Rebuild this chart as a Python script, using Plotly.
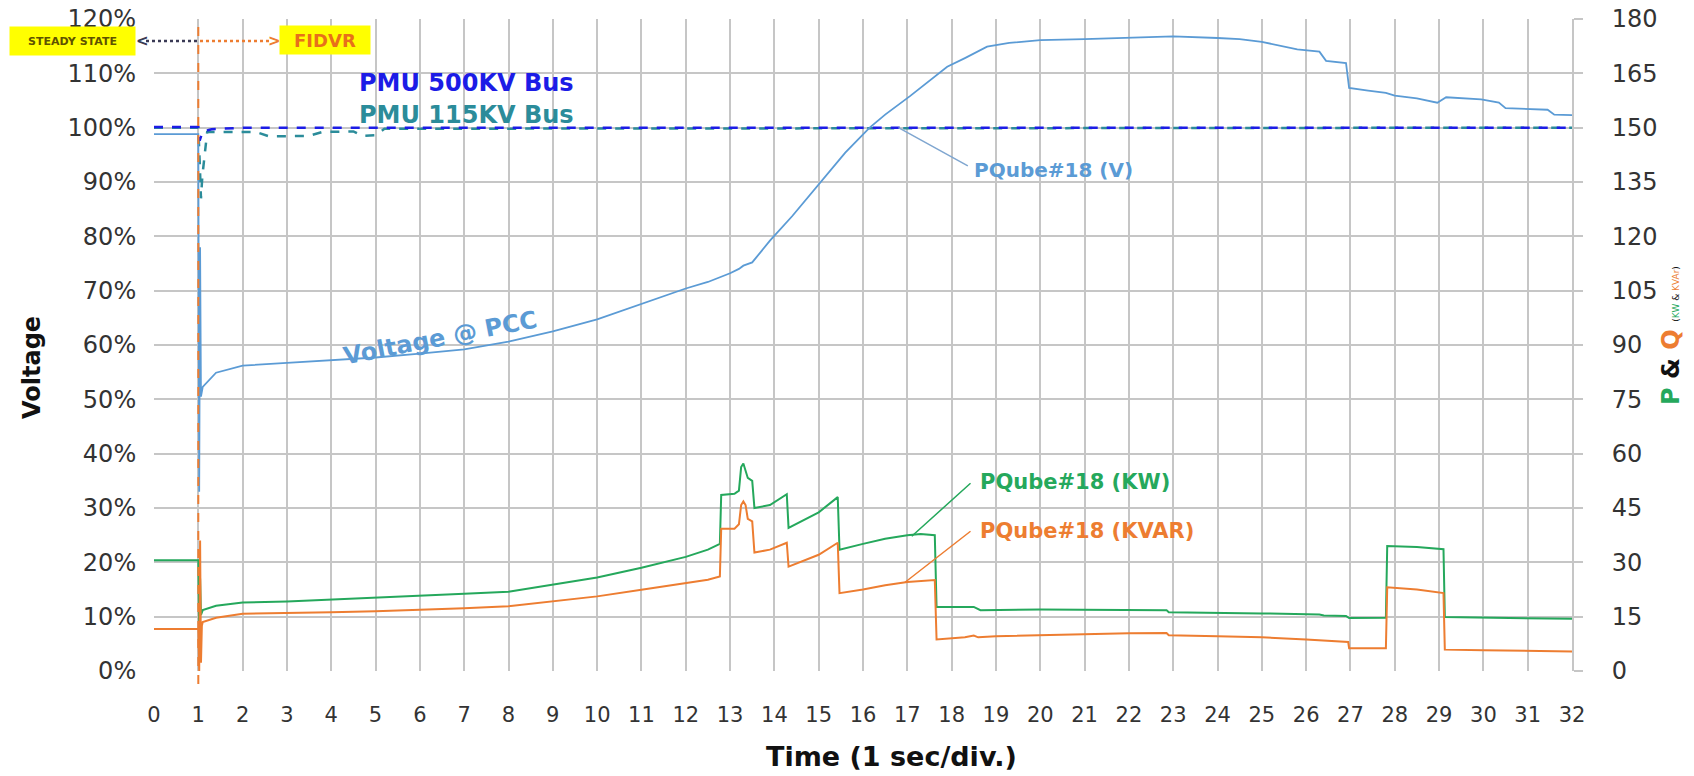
import plotly.graph_objects as go

# ---- PQube#18 voltage at the PCC (% of nominal) ----
t_pcc = [0, 1.0, 1.02, 1.04, 1.06, 1.1, 1.4, 2, 3, 4, 5, 6, 7, 8, 9, 10, 11, 12, 12.5, 13,
         13.2, 13.3, 13.5, 13.9, 14.4, 15, 15.6, 16.15, 16.5, 17.06, 17.5, 17.9, 18.3, 18.8,
         19.3, 20, 21, 22, 23, 24, 24.5, 25, 25.5, 25.8, 26.3, 26.45, 26.9, 26.97, 27.4,
         27.8, 28.0, 28.5, 28.96, 29.16, 29.95, 30.35, 30.5, 31.45, 31.6, 32]
v_pcc = [98.8, 98.8, 33, 78, 50.5, 52.3, 54.9, 56.2, 56.7, 57.2, 57.7, 58.4, 59.2, 60.6, 62.5,
         64.7, 67.6, 70.4, 71.6, 73.2, 74.0, 74.6, 75.2, 79.2, 83.7, 89.5, 95.4, 100, 102.4,
         105.8, 108.6, 111.2, 112.8, 114.9, 115.6, 116.1, 116.3, 116.6, 116.8, 116.5, 116.3,
         115.8, 115.0, 114.4, 114.0, 112.3, 111.9, 107.3, 106.8, 106.4, 105.9, 105.4, 104.6,
         105.6, 105.2, 104.6, 103.6, 103.3, 102.4, 102.3]

# ---- PMU bus voltages (% of nominal) ----
t_pmu500 = [0, 1.0, 1.03, 1.1, 1.3, 2, 32]
v_pmu500 = [100.1, 100.1, 97.6, 99.3, 99.7, 100, 100]

t_pmu115 = [0, 1.0, 1.03, 1.06, 1.09, 1.2, 2.3, 2.6, 3.5, 3.8, 4.5, 4.7, 5.0, 5.2, 32]
v_pmu115 = [100, 100, 94, 87, 91, 99.2, 99.2, 98.4, 98.5, 99.2, 99.3, 98.5, 98.6, 99.8, 100]

# ---- PQube#18 active power (kW) ----
t_kw = [0, 1.0, 1.02, 1.04, 1.06, 1.1, 1.4, 2, 3, 4, 5, 6, 7, 8, 9, 10, 11, 12, 12.5, 12.77,
        12.8, 13.1, 13.2, 13.25, 13.3, 13.35, 13.4, 13.5, 13.55, 13.9, 14.28, 14.32, 15.0,
        15.43, 15.47, 16, 16.5, 17, 17.3, 17.62, 17.66, 18.5, 18.65, 20, 21, 22.85, 22.9,
        24, 25, 26.3, 26.4, 26.9, 26.97, 27.8, 27.83, 28.5, 29.1, 29.13, 30, 31, 32]
p_kw = [30.6, 30.6, 10.5, 25.5, 15.5, 16.8, 18.0, 18.9, 19.2, 19.7, 20.1, 20.7, 21.3, 21.9,
        23.9, 25.8, 28.5, 31.5, 33.5, 35.1, 48.6, 48.9, 49.8, 56.3, 57.3, 55.5, 53.3, 52.5,
        45.0, 45.8, 48.8, 39.5, 43.8, 48.0, 33.5, 35.1, 36.5, 37.5, 37.8, 37.5, 17.7, 17.7,
        16.8, 17.0, 17.0, 16.8, 16.2, 16.1, 15.9, 15.6, 15.3, 15.2, 14.6, 14.7, 34.5, 34.2,
        33.6, 14.9, 14.7, 14.6, 14.4]

# ---- PQube#18 reactive power (kVAr) ----
t_kvar = [0, 1.0, 1.02, 1.04, 1.06, 1.08, 1.1, 1.4, 2, 3, 4, 5, 6, 7, 8, 9, 10, 11, 12, 12.5,
          12.77, 12.8, 13.1, 13.2, 13.25, 13.3, 13.35, 13.4, 13.5, 13.55, 13.9, 14.28, 14.32,
          15.0, 15.43, 15.47, 16, 16.5, 17, 17.62, 17.66, 18.3, 18.5, 18.6, 19, 20, 21, 22,
          22.85, 22.9, 24, 25, 26, 26.5, 26.95, 26.97, 27.8, 27.83, 28.5, 29.1, 29.13, 30,
          31, 32]
q_kvar = [11.6, 11.6, 0, 36, 2.3, 12.5, 13.5, 14.7, 15.8, 15.9, 16.2, 16.5, 16.8, 17.3, 17.9,
          19.2, 20.6, 22.4, 24.2, 25.2, 26.1, 39.3, 39.3, 40.5, 45.8, 46.8, 45.8, 42.0, 41.3,
          32.7, 33.5, 35.4, 28.8, 32.1, 35.4, 21.5, 22.5, 23.7, 24.6, 25.1, 8.7, 9.3, 9.8,
          9.3, 9.6, 9.9, 10.1, 10.4, 10.5, 9.9, 9.6, 9.3, 8.7, 8.3, 8.0, 6.3, 6.3, 23.1,
          22.5, 21.5, 5.9, 5.7, 5.6, 5.4]

x_ticks = list(range(0, 33))
v_ticks = list(range(0, 121, 10))
v_ticktext = [f"{v}%" for v in v_ticks]
pq_ticks = list(range(0, 181, 15))
fidvr_start = 1.0

# colours
C_PCC = "#5b9bd5"
C_500 = "#1c1ce6"
C_115 = "#2b8c9a"
C_KW = "#25a85c"
C_KVAR = "#ed7d31"
GRID = "#c6c6c6"
FONT = "DejaVu Sans"

W, H = 1694, 776
L, R, T, B = 154, 122, 19, 105
PW, PH = W - L - R, H - T - B


def px(x):
    return (x - L) / PW


def py(y):
    return (H - B - y) / PH


fig = go.Figure()
fig.add_trace(go.Scatter(x=t_pmu115, y=v_pmu115, mode="lines", name="PMU 115KV Bus",
                         line=dict(color=C_115, width=2.5, dash="dash")))
fig.add_trace(go.Scatter(x=t_pmu500, y=v_pmu500, mode="lines", name="PMU 500KV Bus",
                         line=dict(color=C_500, width=2.5, dash="dash")))
fig.add_trace(go.Scatter(x=t_pcc, y=v_pcc, mode="lines", name="PQube#18 (V)",
                         line=dict(color=C_PCC, width=1.8)))
fig.add_trace(go.Scatter(x=t_kw, y=p_kw, mode="lines", name="PQube#18 (KW)", yaxis="y2",
                         line=dict(color=C_KW, width=2)))
fig.add_trace(go.Scatter(x=t_kvar, y=q_kvar, mode="lines", name="PQube#18 (KVAR)", yaxis="y2",
                         line=dict(color=C_KVAR, width=2)))

# FIDVR onset marker
fig.add_shape(type="line", xref="x", yref="paper", x0=fidvr_start, x1=fidvr_start,
              y0=py(684), y1=py(21), line=dict(color=C_KVAR, width=2, dash="dash"))

# steady state / FIDVR arrow
fig.add_shape(type="line", xref="paper", yref="paper", x0=px(146), x1=px(200), y0=py(41),
              y1=py(41), line=dict(color="#3a3a55", width=2.5, dash="dot"))
fig.add_shape(type="line", xref="paper", yref="paper", x0=px(200), x1=px(272), y0=py(41),
              y1=py(41), line=dict(color=C_KVAR, width=2.5, dash="dot"))

ann = []
ann.append(dict(x=px(142), y=py(41), text="<b>&lt;</b>", font=dict(size=15, color="#3a3a55")))
ann.append(dict(x=px(274), y=py(41), text="<b>&gt;</b>", font=dict(size=15, color=C_KVAR)))
ann.append(dict(x=px(72), y=py(41), text="<b>STEADY STATE</b>", bgcolor="#ffff00",
                width=125, height=28, borderpad=0,
                font=dict(size=11, color="#5e5200")))
ann.append(dict(x=px(325), y=py(40), text="<b>FIDVR</b>", bgcolor="#ffff00",
                width=90, height=28, borderpad=0, font=dict(size=18, color="#e8701a")))

ann.append(dict(x=px(357), y=py(83), text="<b>PMU 500KV Bus</b>", xanchor="left",
                font=dict(size=24, color=C_500)))
ann.append(dict(x=px(357), y=py(115), text="<b>PMU 115KV Bus</b>", xanchor="left",
                font=dict(size=24, color=C_115)))
ann.append(dict(x=px(440), y=py(338), text="<b>Voltage @ PCC</b>", textangle=-11,
                font=dict(size=24, color=C_PCC)))

# callouts: leader lines from label to trace
ann.append(dict(x=16.8, y=100, xref="x", yref="y", ax=18.4, ay=92.8, axref="x",
                ayref="y", text="", showarrow=True, arrowhead=0, arrowwidth=1.5,
                arrowcolor="#7fa6d0"))
ann.append(dict(x=px(972), y=py(170), text="<b>PQube#18 (V)</b>", xanchor="left",
                font=dict(size=20, color=C_PCC)))
ann.append(dict(x=17.1, y=37.2, xref="x", yref="y2", ax=18.46, ay=52.2, axref="x",
                ayref="y2", text="", showarrow=True, arrowhead=0, arrowwidth=1.5,
                arrowcolor=C_KW))
ann.append(dict(x=px(978), y=py(482), text="<b>PQube#18 (KW)</b>", xanchor="left",
                font=dict(size=21, color=C_KW)))
ann.append(dict(x=16.95, y=24.5, xref="x", yref="y2", ax=18.46, ay=38.9, axref="x",
                ayref="y2", text="", showarrow=True, arrowhead=0, arrowwidth=1.5,
                arrowcolor=C_KVAR))
ann.append(dict(x=px(978), y=py(531), text="<b>PQube#18 (KVAR)</b>", xanchor="left",
                font=dict(size=21, color=C_KVAR)))

# axis titles
ann.append(dict(x=px(32), y=py(367), text="<b>Voltage</b>", textangle=-90,
                font=dict(size=24, color="#111111")))
ann.append(dict(x=px(891), y=py(757), text="<b>Time (1 sec/div.)</b>",
                font=dict(size=27, color="#111111")))
ann.append(dict(x=px(1671), y=py(336), textangle=-90,
                text=(f"<b><span style='color:{C_KW}'>P</span> &amp; "
                      f"<span style='color:{C_KVAR}'>Q</span></b> "
                      f"<span style='font-size:9px'>(<span style='color:{C_KW}'>KW</span>"
                      f" &amp; <span style='color:{C_KVAR}'>KVAr</span>)</span>"),
                font=dict(size=24, color="#111111")))

for a in ann:
    a.setdefault("xref", "paper")
    a.setdefault("yref", "paper")
    a.setdefault("showarrow", False)
    a.setdefault("xanchor", "center")
    a.setdefault("yanchor", "middle")
    fig.add_annotation(**a)

fig.update_layout(
    width=W, height=H,
    margin=dict(l=L, r=R, t=T, b=B, autoexpand=False),
    paper_bgcolor="white", plot_bgcolor="white",
    showlegend=False,
    font=dict(family=FONT, color="#333333"),
    xaxis=dict(range=[0, 32], tickvals=x_ticks, showgrid=True, gridcolor=GRID, gridwidth=2,
               zeroline=False, showline=False, ticks="", tickfont=dict(size=21),
               ticklabelstandoff=29, automargin=False),
    yaxis=dict(range=[0, 120], tickvals=v_ticks, ticktext=v_ticktext, showgrid=True,
               gridcolor=GRID, gridwidth=2, zeroline=False, showline=False,
               ticks="outside", ticklen=12, tickcolor="rgba(0,0,0,0)",
               tickfont=dict(size=24), automargin=False),
    yaxis2=dict(range=[0, 180], tickvals=pq_ticks, overlaying="y", side="right",
                showgrid=False, zeroline=False, showline=True, linecolor=GRID, linewidth=2,
                ticks="outside", ticklen=9, tickcolor=GRID, tickwidth=2,
                tickfont=dict(size=24), ticklabelstandoff=24, automargin=False),
)

fig.write_html("out.html")
